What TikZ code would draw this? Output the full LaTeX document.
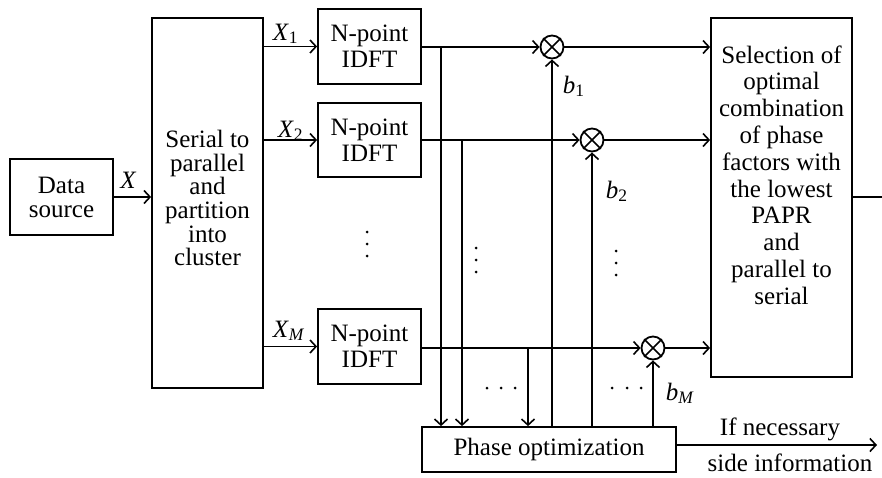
\documentclass[tikz,border=0pt]{standalone}
\usepackage{fontspec}
\setmainfont{Liberation Serif}
\usetikzlibrary{arrows.meta,calc}
\begin{document}
\begin{tikzpicture}[x=1pt,y=-1pt,
  line width=1.8pt,
  >={Straight Barb[length=6pt,width=13pt,line width=1.6pt]},
  every node/.style={font=\fontsize{25}{26}\selectfont},
  box/.style={draw,rectangle,inner sep=0pt,align=center},
  mult/.style={draw,circle,minimum size=23pt,inner sep=0pt},
  lab/.style={anchor=base west,inner sep=0pt},
  txt/.style={align=center,inner sep=0pt}]
\useasboundingbox (0,0) rectangle (882,477);

\node[box,minimum width=103pt,minimum height=76pt,font=\fontsize{25}{24}\selectfont] (ds) at (61.5,197) {Data\\source};
\node[box,minimum width=111pt,minimum height=370pt] (sp) at (207.5,203) {};
\node[txt,font=\fontsize{25}{23.7}\selectfont] (sptext) at (207.5,198) {Serial to\\parallel\\and\\partition\\into\\cluster};

\node[box,minimum width=103pt,minimum height=75pt] (i1) at (369.5,46.5) {N-point\\IDFT};
\node[box,minimum width=103pt,minimum height=74pt] (i2) at (369.5,140) {N-point\\IDFT};
\node[box,minimum width=103pt,minimum height=75pt] (iM) at (369.5,346.5) {N-point\\IDFT};

\node[mult] (m1) at (552,47) {};
\node[mult] (m2) at (592,140) {};
\node[mult] (mM) at (653,348) {};
\foreach \m in {m1,m2,mM}{
  \draw[line width=1.6pt] (\m.north west) -- (\m.south east) (\m.north east) -- (\m.south west);
}

\node[box,minimum width=141pt,minimum height=359pt] (sel) at (781.5,197.5) {};
\node[txt,font=\fontsize{25}{26.8}\selectfont] (seltext) at (781.5,175) {Selection of\\optimal\\combination\\of phase\\factors with\\the lowest\\PAPR\\and\\parallel to\\serial};

\node[box,minimum width=254pt,minimum height=45pt] (ph) at (549,449.5) {Phase optimization};

% labels
\node[anchor=base,inner sep=0pt] (lx) at (128.5,188) {\textit{X}};
\node[lab] (lx1) at (272,40) {\textit{X}\textsubscript{1}};
\node[lab] (lx2) at (277,137) {\textit{X}\textsubscript{2}};
\node[lab] (lxM) at (272,337) {\textit{X}\textsubscript{\textit{M}}};
\node[lab] (lb1) at (562,93) {\textit{b}\textsubscript{1}};
\node[lab] (lb2) at (605,198) {\textit{b}\textsubscript{2}};
\node[lab] (lbM) at (665,400) {\textit{b}\textsubscript{\textit{M}}};
\node[anchor=base,inner sep=0pt] (lif) at (780,435) {If necessary};
\node[anchor=base,inner sep=0pt] (lside) at (790,471) {side information};

% connectors
\draw[->] (ds.east) -- (ds.east -| sp.west);
\draw[->] (i1.west -| sp.east) -- (i1.west);
\draw[->] (i2.west -| sp.east) -- (i2.west);
\draw[->] (iM.west -| sp.east) -- (iM.west);

\draw[->] (i1.east |- m1) -- (m1.west);
\draw[->] (i2.east |- m2) -- (m2.west);
\draw[->] (iM.east |- mM) -- (mM.west);

\draw[->] (m1.east) -- (m1 -| sel.west);
\draw[->] (m2.east) -- (m2 -| sel.west);
\draw[->] (mM.east) -- (mM -| sel.west);

\coordinate (j1) at (441,47);
\coordinate (j2) at (462,140);
\coordinate (j3) at (528,348);
\draw[->] (j1) -- (j1 |- ph.north);
\draw[->] (j2) -- (j2 |- ph.north);
\draw[->] (j3) -- (j3 |- ph.north);

\draw[->] (ph.north -| m1) -- (m1.south);
\draw[->] (ph.north -| m2) -- (m2.south);
\draw[->] (ph.north -| mM) -- (mM.south);

\coordinate (pout) at (877,445);
\draw[->] (ph.east |- pout) -- (pout);
\coordinate (sout) at (882,197);
\draw (sel.east |- sout) -- (sout);

% dots
\foreach \y in {232,244,256} \fill (367,\y) circle (1.5pt);
\foreach \y in {248,260,272} \fill (476,\y) circle (1.5pt);
\foreach \y in {251,263,275} \fill (616,\y) circle (1.5pt);
\foreach \x in {487,501,515} \fill (\x,388) circle (1.5pt);
\foreach \x in {612,627,641} \fill (\x,388) circle (1.5pt);
\end{tikzpicture}
\end{document}
